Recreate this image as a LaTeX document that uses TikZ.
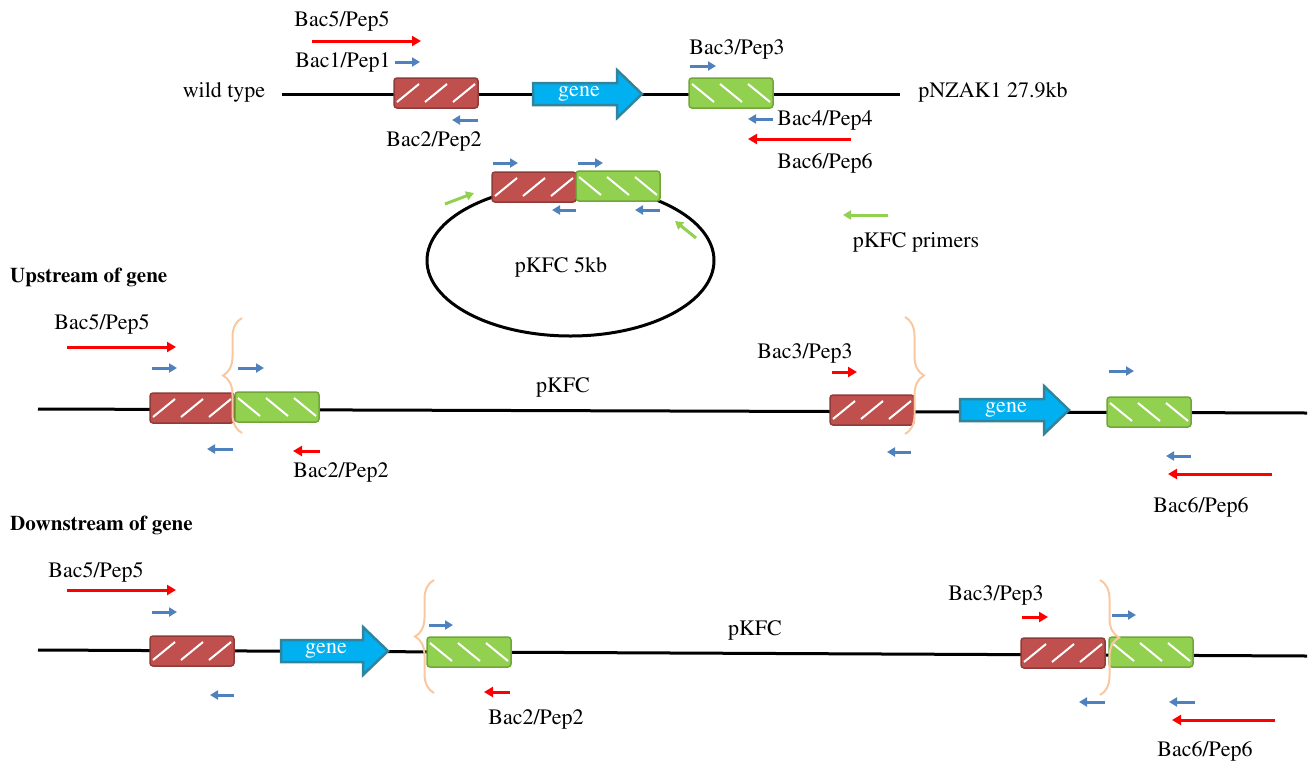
\documentclass[tikz,border=0pt]{standalone}
\usepackage[T1]{fontenc}
\usepackage{times}
\usetikzlibrary{arrows.meta,decorations.pathreplacing,shapes.geometric}
\definecolor{boxred}{HTML}{C0504D}
\definecolor{boxredd}{HTML}{8E3B39}
\definecolor{boxgreen}{HTML}{92D050}
\definecolor{boxgreend}{HTML}{72A53A}
\definecolor{genefill}{HTML}{00B0F0}
\definecolor{genedraw}{HTML}{31849B}
\definecolor{primblue}{HTML}{4F81BD}
\definecolor{primred}{HTML}{FF0000}
\definecolor{bracec}{HTML}{FAC8A0}
\tikzset{
 lbl/.style={font=\fontsize{22}{26}\selectfont, inner sep=0pt},
 headline/.style={font=\fontsize{21}{25}\selectfont\bfseries, inner sep=0pt, anchor=west},
 redbox/.style={draw=boxredd, fill=boxred, line width=1.5pt, rounded corners=3pt, minimum width=84pt, minimum height=30pt, inner sep=0pt},
 greenbox/.style={draw=boxgreend, fill=boxgreen, line width=1.5pt, rounded corners=3pt, minimum width=84pt, minimum height=30pt, inner sep=0pt},
 stripe/.style={draw=white, line width=2pt},
 dna/.style={draw=black, line width=3pt},
 genebody/.style={fill=genefill, draw=genedraw, line width=2.5pt, line join=miter},
 genetext/.style={font=\fontsize{22}{26}\selectfont, text=white, inner sep=0pt},
 bp/.style={draw=primblue, line width=3pt, -{Triangle[length=8pt,width=9pt]}},
 rp/.style={draw=primred, line width=3pt, -{Triangle[length=9pt,width=10pt]}},
 gp/.style={draw=boxgreen, line width=3pt, -{Triangle[length=8pt,width=9pt]}},
 brc/.style={draw=bracec, line width=2pt, decorate, decoration={brace, amplitude=19pt}},
}
\newcommand{\rbx}[3]{\node[redbox] (#1) at (#2,#3) {};
 \foreach \d in {-28,0,28}{\draw[stripe] ([shift={(\d-11,9)}]#1.center) -- ([shift={(\d+11,-9)}]#1.center);}}
\newcommand{\gbx}[3]{\node[greenbox] (#1) at (#2,#3) {};
 \foreach \d in {-28,0,28}{\draw[stripe] ([shift={(\d-11,-9)}]#1.center) -- ([shift={(\d+11,9)}]#1.center);}}
\newcommand{\genearrow}[4]{%
 \draw[genebody] (#2,#4-11) -- (#3-25,#4-11) -- (#3-25,#4-24) -- (#3,#4) -- (#3-25,#4+24) -- (#3-25,#4+11) -- (#2,#4+11) -- cycle;
 \node[genetext] (#1) at ({(#2+#3-25)/2+4},#4) {gene};}
\begin{document}
\begin{tikzpicture}[x=1pt,y=-1pt]
\useasboundingbox (0,0) rectangle (1314,761);
% ---------------- wild type ----------------
\coordinate (wtL) at (282,94);
\coordinate (wtR) at (900,94);
\draw[dna] (wtL) -- (wtR);
\node[lbl] (wt) at (224,92) {wild type};
\node[lbl] (pnzak) at (993,92) {pNZAK1 27.9kb};
\rbx{wtred}{436}{93}
\gbx{wtgreen}{731}{93}
\genearrow{wtgene}{533}{642}{94}
\node[lbl] (t5) at (342,21) {Bac5/Pep5};
\draw[rp] (312,41) -- (421,41);
\node[lbl] (t1) at (343,62) {Bac1/Pep1};
\draw[bp] (395,62) -- (420,62);
\draw[bp] (478,120) -- (452,120);
\node[lbl] (t2) at (434,141) {Bac2/Pep2};
\node[lbl] (t3) at (737,49) {Bac3/Pep3};
\draw[bp] (690,66) -- (716,66);
\draw[bp] (773,119) -- (748,119);
\node[lbl] (t4) at (825,120) {Bac4/Pep4};
\draw[rp] (851,139) -- (748,139);
\node[lbl] (t6) at (825,163) {Bac6/Pep6};
% ---------------- plasmid ----------------
\node[draw, ellipse, line width=3pt, minimum width=287pt, minimum height=151pt, inner sep=0pt] (plasmid) at (570.5,260.5) {};
\node[lbl] (pk5) at (561,267) {pKFC 5kb};
\rbx{pred}{534}{187}
\gbx{pgreen}{618}{186}
\draw[bp] (493,163) -- (518,163);
\draw[bp] (578,163) -- (603,163);
\draw[bp] (576,210) -- (552,210);
\draw[bp] (660,210) -- (635,210);
\draw[gp] (445,204) -- (474,193);
\draw[gp] (696,238) -- (675,221);
\draw[gp] (888,215) -- (843,215);
\node[lbl] (pkp) at (916,242) {pKFC primers};
% ---------------- upstream ----------------
\node[headline] (up) at (10,277) {Upstream of gene};
\coordinate (upL) at (38,409);
\coordinate (upR) at (1307,413);
\draw[dna] (upL) -- (upR);
\rbx{ured1}{192}{408}
\gbx{ugreen1}{277}{407}
\rbx{ured2}{872}{410}
\gbx{ugreen2}{1149}{412}
\genearrow{ugene}{960}{1069}{410}
\draw[brc] (242,433) -- (242,318);
\draw[brc] (905,317) -- (905,434);
\node[lbl] (u5) at (102,324) {Bac5/Pep5};
\draw[rp] (67,347) -- (176,347);
\draw[bp] (152,368) -- (177,368);
\draw[bp] (238,368) -- (264,368);
\draw[bp] (233,449) -- (207,449);
\draw[rp] (320,451) -- (293,451);
\node[lbl] (u2) at (341,472) {Bac2/Pep2};
\node[lbl] (upk) at (563,387) {pKFC};
\node[lbl] (u3) at (805,353) {Bac3/Pep3};
\draw[rp] (832,372) -- (857,372);
\draw[bp] (911,452) -- (887,452);
\draw[bp] (1109,371) -- (1134,371);
\draw[bp] (1191,456) -- (1166,456);
\draw[rp] (1272,474) -- (1168,474);
\node[lbl] (u6) at (1201,507) {Bac6/Pep6};
% ---------------- downstream ----------------
\node[headline] (dn) at (10,525) {Downstream of gene};
\coordinate (dnL) at (38,650);
\coordinate (dnR) at (1307,656);
\draw[dna] (dnL) -- (dnR);
\rbx{dred1}{192}{651}
\gbx{dgreen1}{469}{652}
\rbx{dred2}{1063}{653}
\gbx{dgreen2}{1151}{652}
\genearrow{dgene}{281}{388}{651}
\draw[brc] (434,693) -- (434,580);
\draw[brc] (1100,580) -- (1100,695);
\node[lbl] (d5) at (96,572) {Bac5/Pep5};
\draw[rp] (67,590) -- (176,590);
\draw[bp] (152,612) -- (177,612);
\draw[bp] (234,695) -- (210,695);
\draw[bp] (429,625) -- (453,625);
\draw[rp] (510,692) -- (484,692);
\node[lbl] (d2) at (536,719) {Bac2/Pep2};
\node[lbl] (dpk) at (755,630) {pKFC};
\node[lbl] (d3) at (996,595) {Bac3/Pep3};
\draw[rp] (1022,617) -- (1048,617);
\draw[bp] (1112,615) -- (1136,615);
\draw[bp] (1105,702) -- (1079,702);
\draw[bp] (1195,702) -- (1169,702);
\draw[rp] (1275,720) -- (1172,720);
\node[lbl] (d6) at (1205,751) {Bac6/Pep6};
\end{tikzpicture}
\end{document}
